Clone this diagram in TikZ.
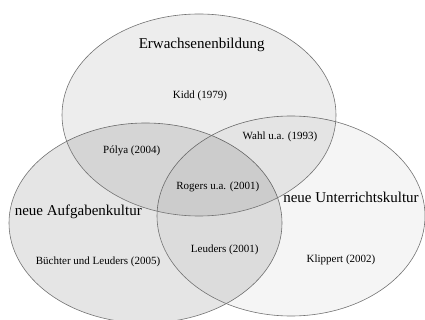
\documentclass[tikz,border=0pt]{standalone}
\usepackage{fontspec}
\setmainfont{Liberation Serif}
\usetikzlibrary{shapes.geometric}
\begin{document}
\begin{tikzpicture}[x=1pt,y=-1pt,
  setshape/.style={ellipse, inner sep=0pt, draw=black!55, line width=0.6pt},
  big/.style={font=\fontsize{15}{17}\selectfont, inner sep=0pt},
  small/.style={font=\fontsize{11}{13}\selectfont, inner sep=0pt}]
\useasboundingbox (0,0) rectangle (425,320);
\node[setshape, minimum width=273pt, minimum height=200pt, fill=black, fill opacity=0.10] (aufg) at (145.5,223) {};
\node[setshape, minimum width=268pt, minimum height=200pt, fill=black, fill opacity=0.04] (unt) at (291,216) {};
\node[setshape, minimum width=274pt, minimum height=202pt, fill=black, fill opacity=0.07] (erw) at (199,115) {};
\node[big] (t1) at (201.7,45) {Erwachsenenbildung};
\node[big] (t2) at (78.3,211.7) {neue Aufgabenkultur};
\node[big] (t3) at (351,197.7) {neue Unterrichtskultur};
\node[small] (kidd) at (200,95.7) {Kidd (1979)};
\node[small] (wahl) at (280,137) {Wahl u.a. (1993)};
\node[small] (polya) at (131.7,150.7) {Pólya (2004)};
\node[small] (rogers) at (217.8,186.7) {Rogers u.a. (2001)};
\node[small] (leuders) at (224.7,250) {Leuders (2001)};
\node[small] (buechter) at (98,262.3) {Büchter und Leuders (2005)};
\node[small] (klippert) at (341,260) {Klippert (2002)};
\end{tikzpicture}
\end{document}
